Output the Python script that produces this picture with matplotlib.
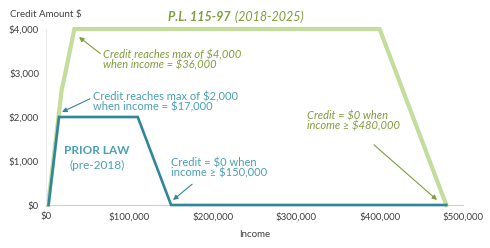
import matplotlib
matplotlib.use("Agg")
import matplotlib.pyplot as plt
from matplotlib.ticker import FuncFormatter

# Data
new_income = [2500, 19000, 21000, 34000, 400000, 480000]
new_credit = [0, 2650, 2800, 4000, 4000, 0]
old_income = [3000, 15500, 110000, 150000, 480000]
old_credit = [0, 2000, 2000, 0, 0]
x_ticks = [0, 100000, 200000, 300000, 400000, 500000]
y_ticks = [0, 1000, 2000, 3000, 4000]

GREEN_LINE = "#c4dc9c"
GREEN_TEXT = "#7f9e3c"
TEAL_LINE = "#2f8799"
TEAL_TEXT = "#4aa0b3"
GRAY_TEXT = "#404040"

plt.rcParams['font.family'] = ['Lato', 'DejaVu Sans']

fig = plt.figure(figsize=(4.9, 2.48), dpi=100)
ax = fig.add_axes([46/490, 1-205/248, (463-46)/490, (205-29)/248])

ax.plot(new_income, new_credit, color=GREEN_LINE, lw=3.0, clip_on=False,
        solid_joinstyle='miter', zorder=2)
ax.plot(old_income, old_credit, color=TEAL_LINE, lw=1.9, clip_on=False,
        solid_joinstyle='miter', zorder=3)

ax.set_xlim(0, 500000)
ax.set_ylim(0, 4000)
ax.set_xticks(x_ticks)
ax.set_yticks(y_ticks)
ax.xaxis.set_major_formatter(FuncFormatter(lambda v, p: f"${int(v):,}"))
ax.yaxis.set_major_formatter(FuncFormatter(lambda v, p: f"${int(v):,}"))
ax.tick_params(length=0, labelsize=7, colors=GRAY_TEXT, pad=5)
for s in ['top', 'right']:
    ax.spines[s].set_visible(False)
ax.spines['bottom'].set_color('#d0d0d0')
ax.spines['left'].set_color('#ececec')
ax.spines['bottom'].set_linewidth(0.8)
ax.spines['left'].set_linewidth(0.8)

ax.set_xlabel("Income", fontsize=7, color=GRAY_TEXT, labelpad=6)
fig.text(10/490, 1-15/248, "Credit Amount $", fontsize=7, color=GRAY_TEXT,
         ha='left', va='center')

# Title
fig.text(168/490, 1-17/248, "P.L. 115-97", fontsize=9, color=GREEN_TEXT,
         fontweight='bold', style='italic', ha='left', va='center')
fig.text(232/490, 1-17/248, " (2018-2025)", fontsize=9, color=GREEN_TEXT,
         style='italic', ha='left', va='center')

def px(x, y):
    return (x/490, 1 - y/248)

ANN_FS = 8.0
LS = 0.95

ax.annotate("Credit reaches max of $4,000\nwhen income = $36,000",
            xy=px(79, 37), xycoords='figure fraction',
            xytext=px(103, 60), textcoords='figure fraction',
            fontsize=ANN_FS, color=GREEN_TEXT, style='italic', ha='left', va='center',
            linespacing=LS,
            arrowprops=dict(arrowstyle='-|>', color=GREEN_TEXT, lw=0.8,
                            mutation_scale=7, shrinkA=0, shrinkB=0,
                            relpos=(-0.02, 0.8)))

ax.annotate("Credit reaches max of $2,000\nwhen income = $17,000",
            xy=px(62, 112), xycoords='figure fraction',
            xytext=px(93, 102), textcoords='figure fraction',
            fontsize=ANN_FS, color=TEAL_TEXT, ha='left', va='center',
            linespacing=LS,
            arrowprops=dict(arrowstyle='-|>', color=TEAL_LINE, lw=0.8,
                            mutation_scale=7, shrinkA=0, shrinkB=0,
                            relpos=(-0.02, 0.65)))

fig.text(97/490, 1-151/248, "PRIOR LAW", fontsize=8.5, color=TEAL_TEXT,
         fontweight='bold', ha='center', va='center')
fig.text(97/490, 1-165/248, "(pre-2018)", fontsize=8.5, color=TEAL_TEXT,
         ha='center', va='center')

ax.annotate("Credit = $0 when\nincome ≥ $150,000",
            xy=px(173, 200), xycoords='figure fraction',
            xytext=px(171, 168), textcoords='figure fraction',
            fontsize=ANN_FS, color=TEAL_TEXT, ha='left', va='center',
            linespacing=LS,
            arrowprops=dict(arrowstyle='-|>', color=TEAL_LINE, lw=0.8,
                            mutation_scale=7, shrinkA=0, shrinkB=0,
                            relpos=(0.22, -0.25)))

ax.annotate("Credit = $0 when\nincome ≥ $480,000",
            xy=px(437, 200), xycoords='figure fraction',
            xytext=px(307, 121), textcoords='figure fraction',
            fontsize=ANN_FS, color=GREEN_TEXT, style='italic', ha='left', va='center',
            linespacing=LS,
            arrowprops=dict(arrowstyle='-|>', color=GREEN_TEXT, lw=0.8,
                            mutation_scale=7, shrinkA=0, shrinkB=0,
                            relpos=(0.72, -0.6)))

fig.savefig("out.png", dpi=100)
